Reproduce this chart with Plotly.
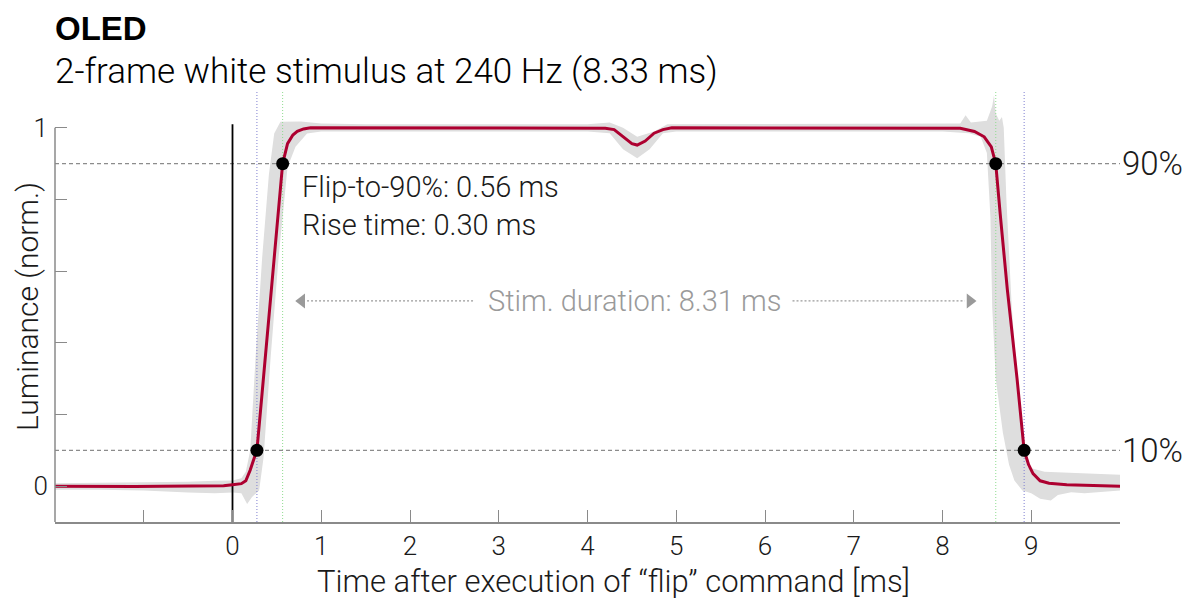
import plotly.graph_objects as go

# ---------------- data ----------------
mean_x = [-2.0, -1.7, -1.4, -1.1, -0.8, -0.5, -0.3, -0.1, 0.0, 0.1, 0.15, 0.2, 0.24, 0.275,
          0.33, 0.42, 0.5, 0.565, 0.62, 0.68, 0.73, 0.8, 0.88, 1.5, 2.0, 2.5, 3.0, 3.5, 4.0,
          4.2, 4.3, 4.4, 4.5, 4.56, 4.65, 4.75, 4.85, 4.95, 5.5, 6.0, 6.5, 7.0, 7.5, 8.0,
          8.2, 8.36, 8.47, 8.55, 8.6, 8.65, 8.73, 8.84, 8.92, 8.97, 9.02, 9.1, 9.2, 9.4,
          9.6, 10.0]
mean_y = [0.0, -0.001, -0.002, -0.001, 0.0, 0.0, 0.002, 0.001, 0.004, 0.007, 0.015, 0.045,
          0.075, 0.1, 0.25, 0.5, 0.72, 0.9, 0.956, 0.98, 0.99, 0.997, 1.0, 1.0, 0.999, 1.0,
          1.0, 1.0, 1.0, 0.999, 0.995, 0.975, 0.956, 0.952, 0.963, 0.985, 0.995, 1.0, 1.0,
          1.0, 1.0, 0.999, 1.0, 1.0, 0.999, 0.99, 0.975, 0.947, 0.9, 0.76, 0.55, 0.3, 0.1,
          0.06, 0.035, 0.015, 0.008, 0.004, 0.002, 0.0]

band_hi_x = [-2.0, -1.5, -1.0, -0.5, -0.2, 0.0, 0.1, 0.15, 0.2, 0.26, 0.335, 0.41, 0.47,
             0.54, 0.77, 1.0, 1.5, 2.0, 3.0, 4.0, 4.25, 4.4, 4.56, 4.75, 4.9, 5.5, 6.5, 7.5,
             8.0, 8.2, 8.26, 8.32, 8.5, 8.56, 8.58, 8.6, 8.64, 8.67, 8.69, 8.72, 8.78, 8.84,
             8.88, 8.96, 9.15, 9.5, 10.0]
band_hi_y = [0.008, 0.009, 0.01, 0.012, 0.015, 0.016, 0.022, 0.04, 0.1, 0.36, 0.64, 0.87,
             0.984, 1.017, 1.018, 1.012, 1.01, 1.01, 1.009, 1.01, 1.015, 1.0, 0.975, 0.99,
             1.01, 1.01, 1.01, 1.01, 1.012, 1.012, 1.035, 1.015, 1.02, 1.06, 1.09, 1.04, 1.02,
             1.03, 1.0, 0.8, 0.5, 0.3, 0.175, 0.053, 0.04, 0.037, 0.032]

band_lo_x = [-2.0, -1.5, -1.0, -0.5, -0.2, 0.0, 0.1, 0.165, 0.22, 0.3, 0.35, 0.43, 0.52,
             0.62, 0.71, 0.84, 1.0, 2.0, 3.0, 4.0, 4.25, 4.4, 4.56, 4.7, 4.85, 5.0, 6.0, 7.0,
             8.0, 8.3, 8.43, 8.5, 8.54, 8.56, 8.6, 8.68, 8.75, 8.81, 8.9, 9.0, 9.1, 9.22, 9.3,
             9.45, 9.6, 10.0]
band_lo_y = [-0.01, -0.01, -0.012, -0.018, -0.02, -0.018, -0.02, -0.05, -0.03, -0.012, 0.08,
             0.36, 0.64, 0.89, 0.947, 0.984, 0.99, 0.99, 0.99, 0.99, 0.985, 0.94, 0.915, 0.94,
             0.985, 0.99, 0.99, 0.99, 0.99, 0.985, 0.975, 0.93, 0.75, 0.5, 0.3, 0.15, 0.06,
             0.016, -0.012, -0.02, -0.035, -0.04, -0.025, -0.017, -0.02, -0.012]

cross_x = [0.275, 0.565, 8.60, 8.92]
cross_y = [0.1, 0.9, 0.9, 0.1]
t10 = [0.275, 8.92]          # 10% crossings (blue dotted)
t90 = [0.565, 8.60]          # 90% crossings (green dotted)
levels = [0.1, 0.9]
level_labels = ["10%", "90%"]
flip_time = 0.0

x_tickvals = [-2, -1, 0, 1, 2, 3, 4, 5, 6, 7, 8, 9, 10]
x_ticktext = ["", "", "0", "1", "2", "3", "4", "5", "6", "7", "8", "9", ""]
y_tickvals = [0, 0.2, 0.4, 0.6, 0.8, 1.0]
y_ticktext = ["0", "", "", "", "", "1"]

stim_arrow = [0.71, 8.38]    # arrow tips (ms)
stim_gap = [2.72, 6.31]      # where text interrupts the dotted line
stim_label_pos = [4.53, 0.517]
info_pos = [0.766, 0.781]

title = "OLED"
subtitle = "2-frame white stimulus at 240 Hz (8.33 ms)"
info_text = "Flip-to-90%: 0.56 ms<br>Rise time: 0.30 ms"
stim_text = "Stim. duration: 8.31 ms"
x_title = "Time after execution of \u201cflip\u201d command [ms]"
y_title = "Luminance (norm.)"

XR = [-2, 10]
YR = [-0.1, 1.1]

FONT = "Roboto"
LIGHT = 300
RED = "#ad0030"
GRAY_AX = "#8a8a8a"

fig = go.Figure()

# gray envelope band
fig.add_trace(go.Scatter(
    x=band_hi_x + band_lo_x[::-1], y=band_hi_y + band_lo_y[::-1],
    fill="toself", fillcolor="#dedede", line=dict(width=0), mode="lines",
    hoverinfo="skip", showlegend=False))

# horizontal threshold lines
for lv in levels:
    fig.add_trace(go.Scatter(x=XR, y=[lv, lv], mode="lines",
                             line=dict(color="#8c8c8c", width=1.2, dash="4px,3px"),
                             showlegend=False, hoverinfo="skip"))
# vertical dotted lines
for t in t10:
    fig.add_trace(go.Scatter(x=[t, t], y=YR, mode="lines",
                             line=dict(color="#7f7fd0", width=1, dash="1px,2px"),
                             showlegend=False, hoverinfo="skip"))
for t in t90:
    fig.add_trace(go.Scatter(x=[t, t], y=YR, mode="lines",
                             line=dict(color="#8fdc8f", width=1, dash="1px,2px"),
                             showlegend=False, hoverinfo="skip"))
# flip command line
fig.add_trace(go.Scatter(x=[flip_time, flip_time], y=[YR[0], 1.01], mode="lines",
                         line=dict(color="black", width=1.8),
                         showlegend=False, hoverinfo="skip"))

# stimulus duration arrow (dotted segments + heads)
fig.add_trace(go.Scatter(x=[stim_arrow[0] + 0.13, stim_gap[0]], y=[stim_label_pos[1]] * 2,
                         mode="lines", line=dict(color="#9a9a9a", width=1.2, dash="2px,2px"),
                         showlegend=False, hoverinfo="skip"))
fig.add_trace(go.Scatter(x=[stim_gap[1], stim_arrow[1] - 0.13], y=[stim_label_pos[1]] * 2,
                         mode="lines", line=dict(color="#9a9a9a", width=1.2, dash="2px,2px"),
                         showlegend=False, hoverinfo="skip"))
fig.add_trace(go.Scatter(x=[stim_arrow[0] + 0.07, stim_arrow[1] - 0.07],
                         y=[stim_label_pos[1]] * 2, mode="markers",
                         marker=dict(symbol=["triangle-left", "triangle-right"], size=13,
                                     color="#9a9a9a", line=dict(width=0)),
                         showlegend=False, hoverinfo="skip"))

# mean curve
fig.add_trace(go.Scatter(x=mean_x, y=mean_y, mode="lines",
                         line=dict(color=RED, width=3), showlegend=False))
# crossing points
fig.add_trace(go.Scatter(x=cross_x, y=cross_y, mode="markers",
                         marker=dict(color="black", size=13), showlegend=False))

ann = []
ann.append(dict(text=f"<b>{title}</b>", xref="paper", yref="paper", x=0, y=1.1953,
                xanchor="left", yanchor="top", showarrow=False, xshift=-2,
                font=dict(family="Liberation Sans", size=33, color="black")))
ann.append(dict(text=subtitle, xref="paper", yref="paper", x=0, y=1.1,
                xanchor="left", yanchor="top", showarrow=False, xshift=-2,
                font=dict(family=FONT, size=35, color="black", weight=LIGHT)))
ann.append(dict(text=info_text, x=info_pos[0], y=info_pos[1], xanchor="left",
                yanchor="middle", align="left", showarrow=False,
                font=dict(family=FONT, size=29, color="#1a1a1a", weight=LIGHT)))
ann.append(dict(text=stim_text, x=stim_label_pos[0], y=stim_label_pos[1],
                xanchor="center", yanchor="middle", showarrow=False,
                font=dict(family=FONT, size=29, color="#9a9a9a", weight=LIGHT)))
for lv, lab in zip(levels, level_labels):
    ann.append(dict(text=lab, xref="paper", x=1, y=lv, xanchor="left", yanchor="middle",
                    xshift=0, showarrow=False,
                    font=dict(family=FONT, size=33, color="#1a1a1a", weight=LIGHT)))
ann.append(dict(text=x_title, xref="paper", yref="paper", x=0.524, y=-0.1385,
                xanchor="center", yanchor="middle", showarrow=False,
                font=dict(family=FONT, size=31, color="#1a1a1a", weight=LIGHT)))
ann.append(dict(text=y_title, xref="paper", yref="paper", x=0, y=0.5, xshift=-28,
                xanchor="center", yanchor="middle", textangle=-90, showarrow=False,
                font=dict(family=FONT, size=30, color="#1a1a1a", weight=LIGHT)))

# the page adds an 8 px body margin, so the figure is sized to fit the 1200x606 window
fig.update_layout(
    width=1192, height=598,
    margin=dict(l=47, r=80, t=84, b=84),
    paper_bgcolor="white", plot_bgcolor="white",
    annotations=ann,
    shapes=[dict(type="line", xref="paper", yref="y", x0=0, x1=0, y0=YR[0], y1=1.0,
                 line=dict(color=GRAY_AX, width=1.5))],
    xaxis=dict(range=XR, tickvals=x_tickvals, ticktext=x_ticktext, ticks="inside",
               ticklen=12, tickwidth=1.2, tickcolor=GRAY_AX, showline=True,
               linecolor=GRAY_AX, linewidth=1.5, showgrid=False, zeroline=False,
               tickfont=dict(family=FONT, size=26, color="#1a1a1a", weight=LIGHT)),
    yaxis=dict(range=YR, tickvals=y_tickvals, ticktext=y_ticktext, ticks="inside",
               ticklen=12, tickwidth=1.2, tickcolor=GRAY_AX, showline=False,
               showgrid=False, zeroline=False, ticklabelstandoff=6,
               tickfont=dict(family=FONT, size=26, color="#1a1a1a", weight=LIGHT)),
)

fig.write_html("out.html")
